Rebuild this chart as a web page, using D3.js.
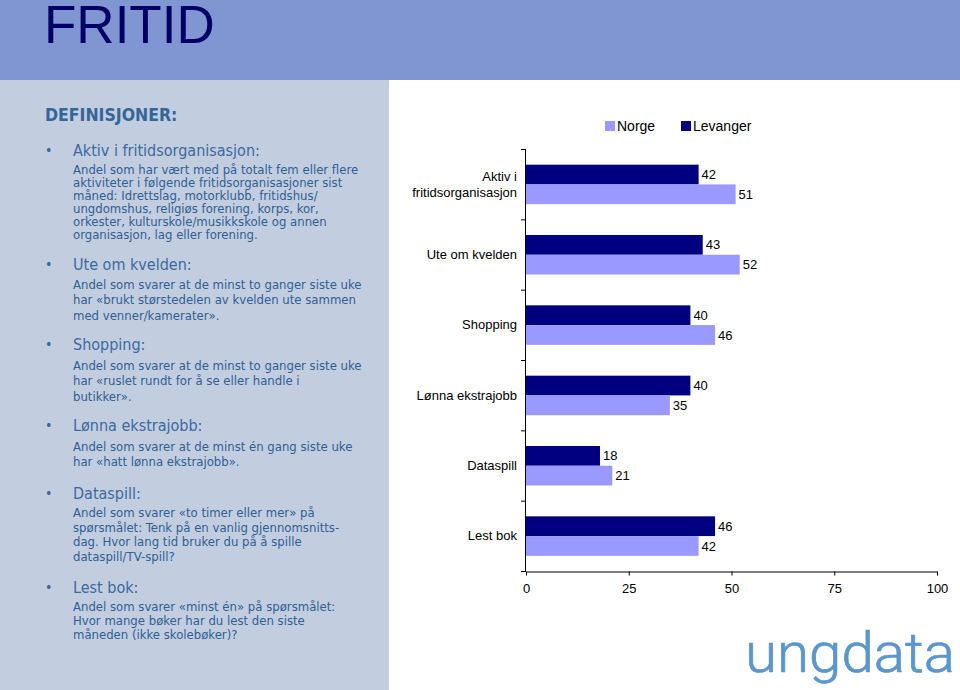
<!DOCTYPE html>
<html>
<head>
<meta charset="utf-8">
<script src="https://cdn.jsdelivr.net/npm/d3@7"></script>
<style>
  body { margin: 0; background: #fff; }
  svg { display: block; }
</style>
</head>
<body>
<script>
// chart data
var categories = ['Aktiv i fritidsorganisasjon', 'Ute om kvelden', 'Shopping', 'Lønna ekstrajobb', 'Dataspill', 'Lest bok'];
var levanger = [42, 43, 40, 40, 18, 46];
var norge = [51, 52, 46, 35, 21, 42];
var xTicks = [0, 25, 50, 75, 100];
var seriesNames = ['Norge', 'Levanger'];

// left panel text
var defHeadings = ['Aktiv i fritidsorganisasjon:', 'Ute om kvelden:', 'Shopping:', 'Lønna ekstrajobb:', 'Dataspill:', 'Lest bok:'];
var defLines = [
  ['Andel som har vært med på totalt fem eller flere',
   'aktiviteter i følgende fritidsorganisasjoner sist',
   'måned: Idrettslag, motorklubb, fritidshus/',
   'ungdomshus, religiøs forening, korps, kor,',
   'orkester, kulturskole/musikkskole og annen',
   'organisasjon, lag eller forening.'],
  ['Andel som svarer at de minst to ganger siste uke',
   'har «brukt størstedelen av kvelden ute sammen',
   'med venner/kamerater».'],
  ['Andel som svarer at de minst to ganger siste uke',
   'har «ruslet rundt for å se eller handle i',
   'butikker».'],
  ['Andel som svarer at de minst én gang siste uke',
   'har «hatt lønna ekstrajobb».'],
  ['Andel som svarer «to timer eller mer» på',
   'spørsmålet: Tenk på en vanlig gjennomsnitts-',
   'dag. Hvor lang tid bruker du på å spille',
   'dataspill/TV-spill?'],
  ['Andel som svarer «minst én» på spørsmålet:',
   'Hvor mange bøker har du lest den siste',
   'måneden (ikke skolebøker)?']
];

// layout of the text blocks
var headY = [156, 270, 350, 431, 499, 593];
var lineY = [174, 289, 370, 451, 517, 611];
var lineStep = [12.9, 15.4, 15.4, 15, 14.6, 14];

var W = 960, H = 690;
var svg = d3.select('body').append('svg').attr('width', W).attr('height', H);

// header band + side panel
svg.append('rect').attr('x', 0).attr('y', 0).attr('width', W).attr('height', 80).attr('fill', '#8096d2');
svg.append('rect').attr('x', 0).attr('y', 80).attr('width', 389).attr('height', H - 80).attr('fill', '#c3cde0');

svg.append('text')
  .attr('x', 44).attr('y', 43)
  .attr('font-family', 'Liberation Sans, Arial, sans-serif')
  .attr('font-size', 53)
  .attr('fill', '#000066')
  .text('FRITID');

var txtFont = '"DejaVu Sans Condensed", "DejaVu Sans", sans-serif';

svg.append('text')
  .attr('x', 45).attr('y', 121)
  .attr('font-family', txtFont)
  .attr('font-stretch', 'condensed')
  .attr('font-weight', 'bold')
  .attr('font-size', 17.5)
  .attr('fill', '#336699')
  .text('DEFINISJONER:');

var defs = svg.append('g').attr('font-family', txtFont).attr('font-stretch', 'condensed');

defHeadings.forEach(function(h, i) {
  defs.append('text')
    .attr('x', 45).attr('y', headY[i] - 1)
    .attr('font-size', 14)
    .attr('fill', '#3a6a9e')
    .text('•');
  defs.append('text')
    .attr('x', 73).attr('y', headY[i])
    .attr('font-size', 16)
    .attr('fill', '#3a6a9e')
    .text(h);
  defLines[i].forEach(function(l, j) {
    defs.append('text')
      .attr('x', 73).attr('y', lineY[i] + j * lineStep[i])
      .attr('font-size', 13)
      .attr('fill', '#2f5f93')
      .text(l);
  });
});

// chart
var chartFont = 'Liberation Sans, Arial, sans-serif';
var x = d3.scaleLinear().domain([0, 100]).range([526, 937]);
var y = d3.scaleBand().domain(categories).range([149, 571]);
var sub = d3.scaleBand().domain(['Levanger', 'Norge']).range([0, 39.5]);
var colors = { Norge: '#9999ff', Levanger: '#000080' };

var rows = categories.map(function(c, i) {
  return { cat: c, Levanger: levanger[i], Norge: norge[i] };
});

var g = svg.append('g').attr('font-family', chartFont);

var groups = g.selectAll('g.cat').data(rows).enter().append('g')
  .attr('class', 'cat')
  .attr('transform', function(d) { return 'translate(0,' + (y(d.cat) + y.bandwidth() / 2 - 19.5) + ')'; });

['Levanger', 'Norge'].forEach(function(s) {
  groups.append('rect')
    .attr('x', x(0))
    .attr('y', sub(s))
    .attr('width', function(d) { return x(d[s]) - x(0); })
    .attr('height', sub.bandwidth())
    .attr('fill', colors[s]);
  groups.append('text')
    .attr('x', function(d) { return x(d[s]) + 3; })
    .attr('y', sub(s) + sub.bandwidth() / 2)
    .attr('dy', '.35em')
    .attr('font-size', 13)
    .attr('fill', '#000')
    .text(function(d) { return d[s]; });
});

// category labels
g.selectAll('text.cat').data(categories).enter().append('text')
  .attr('class', 'cat')
  .attr('text-anchor', 'end')
  .attr('font-size', 13)
  .attr('fill', '#000')
  .each(function(d) {
    var t = d3.select(this);
    var cy = y(d) + y.bandwidth() / 2;
    var parts = d === 'Aktiv i fritidsorganisasjon' ? ['Aktiv i', 'fritidsorganisasjon'] : [d];
    parts.forEach(function(p, k) {
      t.append('tspan')
        .attr('x', 517)
        .attr('y', cy + (k - (parts.length - 1) / 2) * 16)
        .attr('dy', '.35em')
        .text(p);
    });
  });

// y axis: line with ticks at band edges
var yAxis = g.append('g').attr('stroke', '#000').attr('stroke-width', 1);
yAxis.append('line')
  .attr('x1', x(0) - 0.5).attr('x2', x(0) - 0.5)
  .attr('y1', y.range()[0]).attr('y2', y.range()[1]);
yAxis.selectAll('line.tk').data(categories.concat(['end'])).enter().append('line')
  .attr('class', 'tk')
  .attr('x1', x(0) - 5).attr('x2', x(0))
  .attr('y1', function(d, i) { return y.range()[0] + i * y.step() + 0.5; })
  .attr('y2', function(d, i) { return y.range()[0] + i * y.step() + 0.5; });

// x axis
var xAxis = g.append('g')
  .attr('transform', 'translate(0,' + (y.range()[1] + 0.5) + ')')
  .call(d3.axisBottom(x).tickValues(xTicks).tickSize(4).tickSizeOuter(0).tickPadding(8));
xAxis.select('.domain').attr('stroke', '#000');
xAxis.selectAll('.tick line').attr('stroke', '#000');
xAxis.selectAll('.tick text').attr('font-family', chartFont).attr('font-size', 13).attr('fill', '#000');

// legend
var legend = g.append('g').attr('font-size', 14);
var legX = [605, 681];
seriesNames.forEach(function(s, i) {
  legend.append('rect')
    .attr('x', legX[i]).attr('y', 121)
    .attr('width', 10).attr('height', 10)
    .attr('fill', colors[s]);
  legend.append('text')
    .attr('x', legX[i] + 12).attr('y', 131)
    .attr('fill', '#000')
    .text(s);
});

// logo
svg.append('text')
  .attr('x', 745).attr('y', 672)
  .attr('font-family', 'Roboto, sans-serif')
  .attr('font-weight', 300)
  .attr('font-size', 55)
  .attr('textLength', 210)
  .attr('lengthAdjust', 'spacingAndGlyphs')
  .attr('fill', '#5b96cd')
  .attr('stroke', '#5b96cd')
  .attr('stroke-width', 0.7)
  .text('ungdata');
</script>
</body>
</html>
